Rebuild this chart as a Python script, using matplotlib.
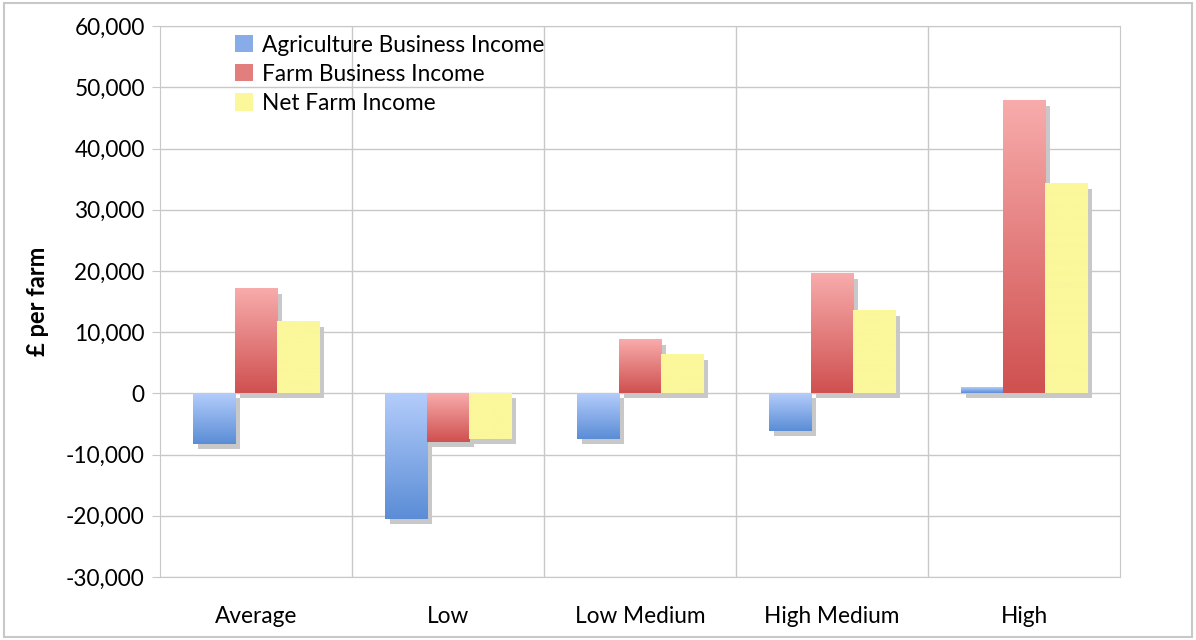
import numpy as np
import matplotlib
matplotlib.use('Agg')
import matplotlib.pyplot as plt
from matplotlib.patches import Rectangle, Patch
from matplotlib import transforms
from matplotlib.ticker import FuncFormatter

plt.rcParams['font.family'] = ['Lato', 'DejaVu Sans']

categories = ['Average', 'Low', 'Low Medium', 'High Medium', 'High']
series = ['Agriculture Business Income', 'Farm Business Income', 'Net Farm Income']
agri = [-8200, -20500, -7500, -6200, 900]
farm = [17100, -8000, 8700, 19500, 47800]
net = [11700, -7400, 6300, 13500, 34200]

# (top colour, bottom colour) of each gradient fill
grads = [('#b3ccfb', '#5b8dd6'), ('#f8abab', '#cf5150'), ('#fbf79b', '#fbf79b')]

fig = plt.figure(figsize=(11.96, 6.4), dpi=100)
ax = fig.add_axes([0.1338, 0.0984, 0.8027, 0.8606])

x = np.arange(len(categories))
w = 0.22
shadow = transforms.offset_copy(ax.transData, fig=fig, x=5, y=-5, units='dots')

ax.set_xlim(-0.5, len(categories) - 0.5)
ax.set_ylim(-30000, 60000)

for i, vals in enumerate([agri, farm, net]):
    xs = x + (i - 1) * w
    sh = ax.bar(xs, vals, w, color='#c8c8c8', zorder=2)
    for p in sh:
        p.set_transform(shadow)
    top_c, bot_c = [np.array(matplotlib.colors.to_rgb(c)) for c in grads[i]]
    t = np.linspace(0, 1, 64)[:, None, None]
    img = top_c * (1 - t) + bot_c * t
    for xx, v in zip(xs, vals):
        ax.imshow(img, extent=(xx - w / 2, xx + w / 2, min(0, v), max(0, v)),
                  origin='upper', aspect='auto', zorder=3, interpolation='bilinear')

ax.set_xlim(-0.5, len(categories) - 0.5)
ax.set_ylim(-30000, 60000)

ax.set_yticks(np.arange(-30000, 60001, 10000))
ax.yaxis.set_major_formatter(FuncFormatter(lambda v, p: f'{int(v):,}'))
ax.set_xticks(x)
ax.set_xticklabels(categories)
ax.set_xticks(np.arange(0.5, len(categories) - 0.5, 1), minor=True)

ax.grid(axis='y', color='#c8c8c8', linewidth=1, zorder=0)
ax.grid(axis='x', which='minor', color='#c8c8c8', linewidth=1, zorder=0)
ax.tick_params(axis='y', length=6, color='#c8c8c8', labelsize=16.3, pad=5)
ax.tick_params(axis='x', which='both', length=0, labelsize=16.3, pad=21)
for s in ['top', 'right', 'bottom', 'left']:
    ax.spines[s].set_color('#c8c8c8')

ax.set_ylabel('£ per farm', fontsize=17, fontweight='bold', labelpad=12)

handles = [Patch(facecolor=c[0] if i == 2 else matplotlib.colors.to_hex(
    (np.array(matplotlib.colors.to_rgb(c[0])) + np.array(matplotlib.colors.to_rgb(c[1]))) / 2))
    for i, c in enumerate(grads)]
leg = ax.legend(handles, series, loc='upper left', bbox_to_anchor=(0.078, 0.985),
                frameon=False, fontsize=16.3, handlelength=0.8, handleheight=0.8,
                handletextpad=0.4, labelspacing=0.36, borderaxespad=0, borderpad=0)

fig.patches.append(Rectangle((0.003, 0.005), 0.994, 0.99, transform=fig.transFigure,
                             fill=False, edgecolor='#c8c8c8', linewidth=1.5))

fig.savefig('out.png', dpi=100)
